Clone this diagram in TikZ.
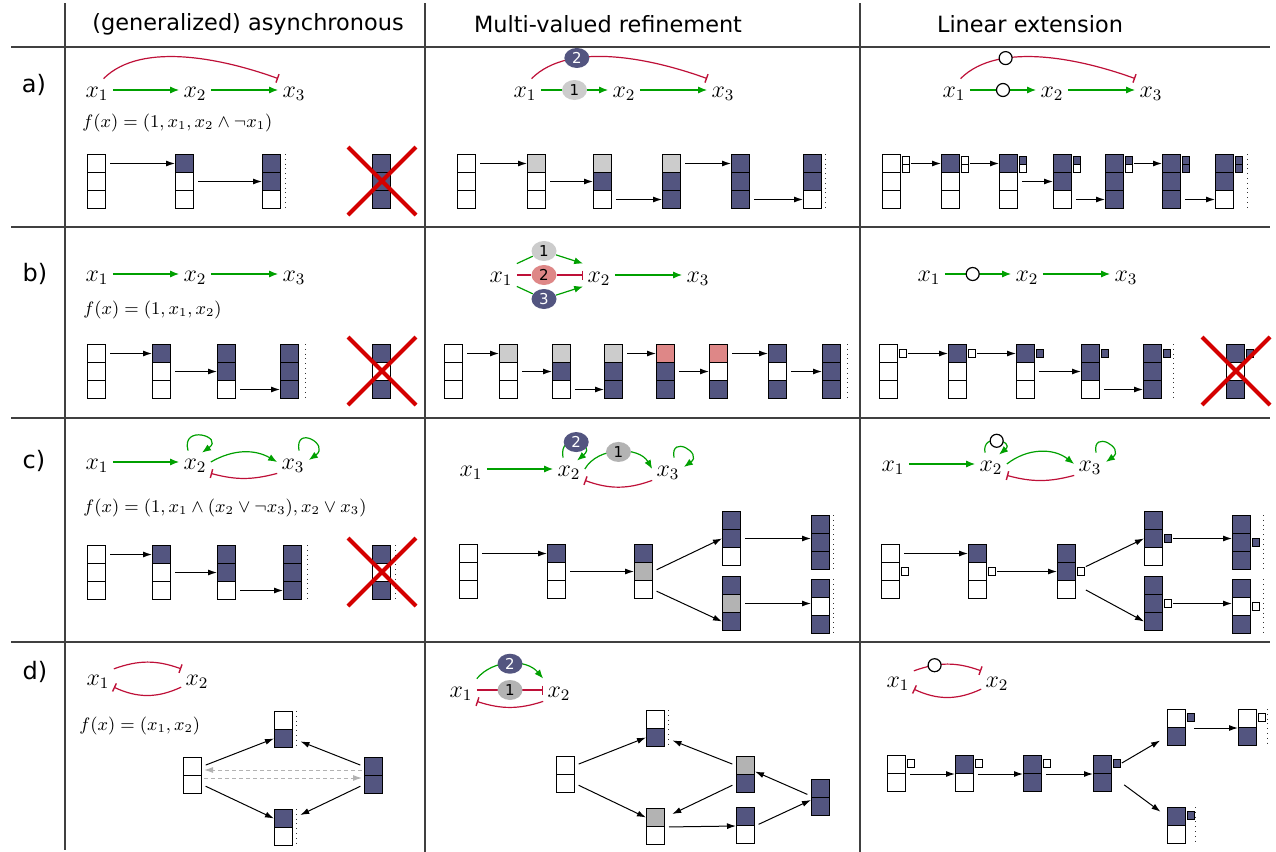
\documentclass[tikz,border=0pt]{standalone}
\usepackage{fontspec}
\newfontfamily\dejavu{DejaVu Sans}
\usetikzlibrary{arrows.meta,shapes.geometric}

\definecolor{bl}{RGB}{83,85,128}
\definecolor{lg}{RGB}{204,204,204}
\definecolor{mg}{RGB}{179,179,179}
\definecolor{sa}{RGB}{222,135,135}
\colorlet{wt}{white}
\definecolor{actgreen}{RGB}{0,160,0}
\definecolor{inhred}{RGB}{190,16,56}
\definecolor{crossred}{RGB}{212,0,0}

\tikzset{
  grid/.style={draw=black!75, line width=0.6pt},
  head/.style={font=\dejavu\fontsize{11.2}{13}\selectfont, inner sep=0pt},
  rowlab/.style={font=\dejavu\fontsize{12}{14}\selectfont, inner sep=0pt},
  var/.style={anchor=base, inner sep=2pt, text height=7pt, text depth=0pt, font=\fontsize{12}{14}\selectfont},
  formula/.style={anchor=base west, inner sep=0pt, font=\fontsize{8.6}{10}\selectfont},
  act/.style={draw=actgreen, line width=0.6pt, -{Latex[length=4.5pt,width=3.5pt]}},
  inh/.style={draw=inhred, line width=0.6pt, -{Bar[width=4.5pt,line width=0.7pt]}},
  elps/.style={ellipse, minimum width=12.5pt, minimum height=10pt, inner sep=0pt, font=\dejavu\fontsize{7.5}{9}\selectfont},
  ocirc/.style={circle, draw=black, fill=white, line width=0.6pt, minimum size=6.5pt, inner sep=0pt},
  cell/.style={draw=black, line width=0.5pt, anchor=north west, minimum width=9pt, minimum height=9pt, inner sep=0pt},
  sidecell/.style={cell, minimum width=3.5pt, minimum height=4pt},
  trans/.style={draw=black, line width=0.5pt, -{Latex[length=4.5pt,width=3pt]}, shorten <=2pt},
  fromside/.style={shorten <=0.5pt},
  ghost/.style={draw=black!30, line width=0.5pt, dash pattern=on 2pt off 1.5pt, -{Latex[length=4.5pt,width=3pt]}, shorten <=1pt, shorten >=1pt},
  fixpt/.style={draw=black!80, line width=0.4pt, dotted},
  cross/.style={draw=crossred, line width=2pt},
}

% state as a column of cells, top to bottom
\newcommand{\statebox}[4]{%
  \foreach \f [count=\i] in {#4}
    \node[cell, fill=\f] (#1-\i) at (#2, {#3+(\i-1)*18}) {};
}
\newcommand{\sidebox}[4]{%
  \foreach \f [count=\i] in {#4}
    \node[sidecell, fill=\f] (#1-\i) at (#2, {#3+(\i-1)*8}) {};
}
\newcommand{\crossout}[1]{%
  \draw[cross] ([shift={(-12pt,3.5pt)}]#1-1.north west) -- ([shift={(12.5pt,-3pt)}]#1-3.south east)
               ([shift={(-12pt,-3pt)}]#1-3.south west) -- ([shift={(12.5pt,3.5pt)}]#1-1.north east);
}

\begin{document}
\begin{tikzpicture}[x=0.5pt,y=-0.5pt]
\useasboundingbox (0,0) rectangle (1276,852);

% table
\draw[grid] (11,47) -- (1270,47);
\draw[grid] (11,227) -- (1270,227);
\draw[grid] (11,418) -- (1270,418);
\draw[grid] (11,642) -- (1270,642);
\draw[grid] (65,3) -- (65,850);
\draw[grid] (425,3) -- (425,852);
\draw[grid] (860,3) -- (860,852);

\node[head] (h1) at (248,24) {(generalized) asynchronous};
\node[head] (h2) at (608,24) {Multi-valued refinement};
\node[head] (h3) at (1030,24) {Linear extension};

\node[rowlab] (la) at (34,85) {a)};
\node[rowlab] (lb) at (35,274) {b)};
\node[rowlab] (lc) at (34,461) {c)};
\node[rowlab] (ld) at (35,672) {d)};

% a) asynchronous
\node[var] (a1x1) at (97,97) {$x_1$};
\node[var] (a1x2) at (195,97) {$x_2$};
\node[var] (a1x3) at (294,97) {$x_3$};
\draw[act] (a1x1) -- (a1x2);
\draw[act] (a1x2) -- (a1x3);
\draw[inh] (a1x1.60) to[out=45,in=160,looseness=0.8] (a1x3.north west);
\node[formula] (a1f) at (82,127) {$f(x)=(1,x_1,x_2\wedge\neg x_1)$};
\statebox{a1s1}{87}{154}{wt,wt,wt}
\statebox{a1s2}{175}{154}{bl,wt,wt}
\statebox{a1s3}{262}{154}{bl,bl,wt}
\statebox{a1sx}{372}{154}{bl,bl,bl}
\draw[trans] (a1s1-1.east) -- (a1s2-1.west);
\draw[trans] (a1s2-2.east) -- (a1s3-2.west);
\draw[fixpt] ([xshift=2pt]a1s3-1.north east) -- ([xshift=2pt]a1s3-3.south east);
\crossout{a1sx}

% a) multi-valued
\node[var] (a2x1) at (525,97) {$x_1$};
\node[var] (a2x2) at (624,97) {$x_2$};
\node[var] (a2x3) at (723,97) {$x_3$};
\draw[act] (a2x1) -- node[elps,fill=lg] (a2e1) {1} (a2x2);
\draw[act] (a2x2) -- (a2x3);
\draw[inh] (a2x1.60) to[out=45,in=160,looseness=0.8] node[pos=0.3,elps,fill=bl,text=white] (a2e2) {2} (a2x3.north west);
\statebox{a2s1}{457}{154}{wt,wt,wt}
\statebox{a2s2}{527}{154}{lg,wt,wt}
\statebox{a2s3}{593}{154}{lg,bl,wt}
\statebox{a2s4}{662}{154}{lg,bl,bl}
\statebox{a2s5}{731}{154}{bl,bl,bl}
\statebox{a2s6}{803}{154}{bl,bl,wt}
\draw[trans] (a2s1-1.east) -- (a2s2-1.west);
\draw[trans] (a2s2-2.east) -- (a2s3-2.west);
\draw[trans] (a2s3-3.east) -- (a2s4-3.west);
\draw[trans] (a2s4-1.east) -- (a2s5-1.west);
\draw[trans] (a2s5-3.east) -- (a2s6-3.west);
\draw[fixpt] ([xshift=1.5pt]a2s6-1.north east) -- ([xshift=1.5pt]a2s6-3.south east);

% a) linear extension
\node[var] (a3x1) at (954,97) {$x_1$};
\node[var] (a3x2) at (1052,97) {$x_2$};
\node[var] (a3x3) at (1151,97) {$x_3$};
\draw[act] (a3x1) -- node[ocirc] (a3c1) {} (a3x2);
\draw[act] (a3x2) -- (a3x3);
\draw[inh] (a3x1.60) to[out=45,in=160,looseness=0.8] node[pos=0.3,ocirc] (a3c2) {} (a3x3.north west);
\statebox{a3s1}{882}{154}{wt,wt,wt}
\sidebox{a3t1}{902}{156}{wt,wt}
\statebox{a3s2}{941}{154}{bl,wt,wt}
\sidebox{a3t2}{961}{156}{wt,wt}
\statebox{a3s3}{999}{154}{bl,wt,wt}
\sidebox{a3t3}{1019}{156}{bl,wt}
\statebox{a3s4}{1053}{154}{bl,bl,wt}
\sidebox{a3t4}{1073}{156}{bl,wt}
\statebox{a3s5}{1105}{154}{bl,bl,bl}
\sidebox{a3t5}{1125}{156}{bl,wt}
\statebox{a3s6}{1162}{154}{bl,bl,bl}
\sidebox{a3t6}{1182}{156}{bl,bl}
\statebox{a3s7}{1215}{154}{bl,bl,wt}
\sidebox{a3t7}{1235}{156}{bl,bl}
\draw[trans,fromside] (a3t1-1.east |- a3s2-1.west) -- (a3s2-1.west);
\draw[trans,fromside] (a3t2-1.east |- a3s3-1.west) -- (a3s3-1.west);
\draw[trans] (a3s3-2.east) -- (a3s4-2.west);
\draw[trans] (a3s4-3.east) -- (a3s5-3.west);
\draw[trans,fromside] (a3t5-1.east |- a3s6-1.west) -- (a3s6-1.west);
\draw[trans] (a3s6-3.east) -- (a3s7-3.west);
\draw[fixpt] ([xshift=6.5pt]a3s7-1.north east) -- ([xshift=6.5pt]a3s7-3.south east);

% b) asynchronous
\node[var] (b1x1) at (97,281) {$x_1$};
\node[var] (b1x2) at (195,281) {$x_2$};
\node[var] (b1x3) at (294,281) {$x_3$};
\draw[act] (b1x1) -- (b1x2);
\draw[act] (b1x2) -- (b1x3);
\node[formula] (b1f) at (83,314) {$f(x)=(1,x_1,x_2)$};
\statebox{b1s1}{87}{344}{wt,wt,wt}
\statebox{b1s2}{152}{344}{bl,wt,wt}
\statebox{b1s3}{217}{344}{bl,bl,wt}
\statebox{b1s4}{280}{344}{bl,bl,bl}
\statebox{b1sx}{372}{344}{bl,wt,bl}
\draw[trans] (b1s1-1.east) -- (b1s2-1.west);
\draw[trans] (b1s2-2.east) -- (b1s3-2.west);
\draw[trans] (b1s3-3.east) -- (b1s4-3.west);
\draw[fixpt] ([xshift=3pt]b1s4-1.north east) -- ([xshift=3pt]b1s4-3.south east);
\crossout{b1sx}

% b) multi-valued
\node[var] (b2x1) at (501,282) {$x_1$};
\node[var] (b2x2) at (599,282) {$x_2$};
\node[var] (b2x3) at (698,282) {$x_3$};
\node[elps,fill=lg] (b2e1) at (544,251) {1};
\node[elps,fill=sa] (b2e2) at (544,275) {2};
\node[elps,fill=bl,text=white] (b2e3) at (544,299) {3};
\draw[act] (b2x1.north east) -- (b2e1) -- (b2x2.north west);
\draw[inh] (b2x1) -- (b2e2) -- (b2x2);
\draw[act] (b2x1.south east) -- (b2e3) -- (b2x2.south west);
\draw[act] (b2x2) -- (b2x3);
\statebox{b2s1}{444}{344}{wt,wt,wt}
\statebox{b2s2}{499}{344}{lg,wt,wt}
\statebox{b2s3}{552}{344}{lg,bl,wt}
\statebox{b2s4}{604}{344}{lg,bl,bl}
\statebox{b2s5}{656}{344}{sa,bl,bl}
\statebox{b2s6}{709}{344}{sa,wt,bl}
\statebox{b2s7}{768}{344}{bl,wt,bl}
\statebox{b2s8}{822}{344}{bl,bl,bl}
\draw[trans] (b2s1-1.east) -- (b2s2-1.west);
\draw[trans] (b2s2-2.east) -- (b2s3-2.west);
\draw[trans] (b2s3-3.east) -- (b2s4-3.west);
\draw[trans] (b2s4-1.east) -- (b2s5-1.west);
\draw[trans] (b2s5-2.east) -- (b2s6-2.west);
\draw[trans] (b2s6-1.east) -- (b2s7-1.west);
\draw[trans] (b2s7-2.east) -- (b2s8-2.west);
\draw[fixpt] ([xshift=3pt]b2s8-1.north east) -- ([xshift=3pt]b2s8-3.south east);

% b) linear extension
\node[var] (b3x1) at (929,281) {$x_1$};
\node[var] (b3x2) at (1027,281) {$x_2$};
\node[var] (b3x3) at (1126,281) {$x_3$};
\draw[act] (b3x1) -- node[pos=0.42,ocirc] (b3c1) {} (b3x2);
\draw[act] (b3x2) -- (b3x3);
\statebox{b3s1}{879}{344}{wt,wt,wt}
\sidebox{b3t1}{899}{349}{wt}
\statebox{b3s2}{948}{344}{bl,wt,wt}
\sidebox{b3t2}{968}{349}{wt}
\statebox{b3s3}{1016}{344}{bl,wt,wt}
\sidebox{b3t3}{1036}{349}{bl}
\statebox{b3s4}{1081}{344}{bl,bl,wt}
\sidebox{b3t4}{1101}{349}{bl}
\statebox{b3s5}{1143}{344}{bl,bl,bl}
\sidebox{b3t5}{1163}{349}{bl}
\statebox{b3sx}{1226}{344}{bl,wt,bl}
\sidebox{b3tx}{1246}{349}{bl}
\draw[trans,fromside] (b3t1-1.east |- b3s2-1.west) -- (b3s2-1.west);
\draw[trans,fromside] (b3t2-1.east |- b3s3-1.west) -- (b3s3-1.west);
\draw[trans] (b3s3-2.east) -- (b3s4-2.west);
\draw[trans] (b3s4-3.east) -- (b3s5-3.west);
\draw[fixpt] ([xshift=5.5pt]b3s5-1.north east) -- ([xshift=5.5pt]b3s5-3.south east);
\crossout{b3sx}

% c) asynchronous
\node[var] (c1x1) at (97,469) {$x_1$};
\node[var] (c1x2) at (195,469) {$x_2$};
\node[var] (c1x3) at (293,469) {$x_3$};
\draw[act] (c1x1) -- (c1x2);
\draw[act] (c1x2.east) to[bend left=30] (c1x3.west);
\draw[inh] (c1x3.south west) to[bend left=15] (c1x2.south east);
\draw[act] ([xshift=-3.5pt]c1x2.north) to[out=105,in=35,looseness=5] ([xshift=3.5pt,yshift=-1pt]c1x2.north);
\draw[act] ([xshift=3pt]c1x3.north) to[out=100,in=35,looseness=5] ([yshift=1pt]c1x3.east);
\node[formula] (c1f) at (83,512) {$f(x)=(1,x_1\wedge(x_2\vee\neg x_3),x_2\vee x_3)$};
\statebox{c1s1}{87}{545}{wt,wt,wt}
\statebox{c1s2}{152}{545}{bl,wt,wt}
\statebox{c1s3}{217}{545}{bl,bl,wt}
\statebox{c1s4}{283}{545}{bl,bl,bl}
\statebox{c1sx}{372}{545}{bl,wt,bl}
\draw[trans] (c1s1-1.east) -- (c1s2-1.west);
\draw[trans] (c1s2-2.east) -- (c1s3-2.west);
\draw[trans] (c1s3-3.east) -- (c1s4-3.west);
\draw[fixpt] ([xshift=2.5pt]c1s4-1.north east) -- ([xshift=2.5pt]c1s4-3.south east);
\draw[fixpt] ([xshift=2pt]c1sx-1.north east) -- ([xshift=2pt]c1sx-3.south east);
\crossout{c1sx}

% c) multi-valued
\node[var] (c2x1) at (471,476) {$x_1$};
\node[var] (c2x2) at (569,476) {$x_2$};
\node[var] (c2x3) at (668,476) {$x_3$};
\draw[act] (c2x1) -- (c2x2);
\draw[act] ([xshift=-3pt]c2x2.north) to[out=100,in=40,looseness=5] node[elps,fill=bl,text=white] (c2e2) {2} ([xshift=4pt,yshift=-1.5pt]c2x2.north);
\draw[act] (c2x2.east) to[bend left=60] node[elps,fill=mg] (c2e1) {1} (c2x3.west);
\draw[inh] (c2x3.south west) to[bend left=20] (c2x2.south east);
\draw[act] ([xshift=3pt]c2x3.north) to[out=100,in=35,looseness=4.5] ([yshift=1pt]c2x3.east);
\statebox{c2s1}{459}{544}{wt,wt,wt}
\statebox{c2s2}{547}{544}{bl,wt,wt}
\statebox{c2s3}{634}{544}{bl,mg,wt}
\statebox{c2s4}{722}{511}{bl,bl,wt}
\statebox{c2s5}{722}{576}{bl,mg,bl}
\statebox{c2s6}{811}{515}{bl,bl,bl}
\statebox{c2s7}{811}{579}{bl,wt,bl}
\draw[trans] (c2s1-1.east) -- (c2s2-1.west);
\draw[trans] (c2s2-2.east) -- (c2s3-2.west);
\draw[trans] (c2s3-2.east) -- (c2s4-2.west);
\draw[trans] (c2s3-3.east) -- (c2s5-3.west);
\draw[trans] (c2s4-2.east) -- (c2s4-2.east -| c2s6-2.west);
\draw[trans] (c2s5-2.east) -- (c2s5-2.east -| c2s7-2.west);
\draw[fixpt] ([xshift=1.5pt]c2s6-1.north east) -- ([xshift=1.5pt]c2s6-3.south east);
\draw[fixpt] ([xshift=1.5pt]c2s7-1.north east) -- ([xshift=1.5pt]c2s7-3.south east);

% c) linear extension
\node[var] (c3x1) at (893,471) {$x_1$};
\node[var] (c3x2) at (991,471) {$x_2$};
\node[var] (c3x3) at (1090,471) {$x_3$};
\draw[act] (c3x1) -- (c3x2);
\draw[act] ([xshift=-3pt]c3x2.north) to[out=100,in=40,looseness=3.8] node[ocirc] (c3c1) {} ([xshift=4pt,yshift=-1pt]c3x2.north);
\draw[act] (c3x2.east) to[bend left=38] (c3x3.west);
\draw[inh] (c3x3.south west) to[bend left=15] (c3x2.south east);
\draw[act] ([xshift=3pt]c3x3.north) to[out=100,in=35,looseness=4.5] ([yshift=1pt]c3x3.east);
\statebox{c3s1}{881}{544}{wt,wt,wt}
\sidebox{c3t1}{901}{567}{wt}
\statebox{c3s2}{968}{544}{bl,wt,wt}
\sidebox{c3t2}{988}{567}{wt}
\statebox{c3s3}{1057}{544}{bl,bl,wt}
\sidebox{c3t3}{1077}{567}{wt}
\statebox{c3s4}{1144}{511}{bl,bl,wt}
\sidebox{c3t4}{1164}{534}{bl}
\statebox{c3s5}{1144}{576}{bl,bl,bl}
\sidebox{c3t5}{1164}{599}{wt}
\statebox{c3s6}{1232}{515}{bl,bl,bl}
\sidebox{c3t6}{1252}{538}{bl}
\statebox{c3s7}{1232}{579}{bl,wt,bl}
\sidebox{c3t7}{1252}{602}{wt}
\draw[trans] (c3s1-1.east) -- (c3s2-1.west);
\draw[trans,fromside] (c3t2-1.east) -- (c3s3-2.west);
\draw[trans,fromside] (c3t3-1.north east) -- (c3s4-2.west);
\draw[trans,fromside] (c3t3-1.east |- c3s3-3.east) -- (c3s5-3.west);
\draw[trans,fromside] (c3t4-1.east) -- (c3t4-1.east -| c3s6-2.west);
\draw[trans,fromside] (c3t5-1.east) -- (c3t5-1.east -| c3s7-2.west);
\draw[fixpt] ([xshift=6pt]c3s6-1.north east) -- ([xshift=6pt]c3s6-3.south east);
\draw[fixpt] ([xshift=6pt]c3s7-1.north east) -- ([xshift=6pt]c3s7-3.south east);

% d) asynchronous
\node[var] (d1x1) at (98,685) {$x_1$};
\node[var] (d1x2) at (197,685) {$x_2$};
\draw[inh] (d1x1.30) to[bend left=20] (d1x2.150);
\draw[inh] (d1x2.210) to[bend left=25] (d1x1.330);
\node[formula] (d1f) at (79,730) {$f(x)=(x_1,x_2)$};
\statebox{d1s1}{183}{757}{wt,wt}
\statebox{d1s2}{274}{711}{wt,bl}
\statebox{d1s3}{274}{809}{bl,wt}
\statebox{d1s4}{364}{757}{bl,bl}
\draw[trans] (d1s1-1.east) -- (d1s2-2.west);
\draw[trans] (d1s1-2.east) -- (d1s3-1.west);
\draw[trans,shorten >=4pt] (d1s4-1.west) -- (d1s2-2.east);
\draw[trans,shorten >=4pt] (d1s4-2.west) -- (d1s3-1.east);
\draw[ghost] ([yshift=3pt]d1s4-1.south west) -- ([yshift=3pt]d1s1-1.south east);
\draw[ghost] ([yshift=-1pt]d1s1-1.south east) -- ([yshift=-1pt]d1s4-1.south west);
\draw[fixpt] ([xshift=1.5pt]d1s2-1.north east) -- ([xshift=1.5pt]d1s2-2.south east);
\draw[fixpt] ([xshift=1.5pt]d1s3-1.north east) -- ([xshift=1.5pt]d1s3-2.south east);

% d) multi-valued
\node[var] (d2x1) at (461,697) {$x_1$};
\node[var] (d2x2) at (559,697) {$x_2$};
\draw[act] (d2x1.north east) to[bend left=50] node[elps,fill=bl,text=white] (d2e2) {2} (d2x2.north west);
\draw[inh] (d2x1) -- node[elps,fill=mg] (d2e1) {1} (d2x2);
\draw[inh] (d2x2.south west) to[bend left=18] (d2x1.south east);
\statebox{d2s1}{556}{756}{wt,wt}
\statebox{d2s2}{646}{710}{wt,bl}
\statebox{d2s3}{736}{756}{mg,bl}
\statebox{d2s4}{811}{779}{bl,bl}
\statebox{d2s5}{646}{808}{mg,wt}
\statebox{d2s6}{736}{807}{bl,wt}
\draw[trans] (d2s1-1.east) -- (d2s2-2.west);
\draw[trans] (d2s1-2.east) -- (d2s5-1.west);
\draw[trans,shorten >=4pt] (d2s3-1.west) -- (d2s2-2.east);
\draw[trans,shorten >=4pt] (d2s3-2.west) -- (d2s5-1.east);
\draw[trans] (d2s5-1.south east) -- (d2s6-1.south west);
\draw[trans] (d2s6-1.south east) -- ([yshift=-1pt]d2s4-1.south west);
\draw[trans] ([yshift=1pt]d2s4-1.south west) -- ([yshift=-3pt]d2s3-1.east);
\draw[fixpt] ([xshift=1.5pt]d2s2-1.north east) -- ([xshift=1.5pt]d2s2-2.south east);

% d) linear extension
\node[var] (d3x1) at (898,687) {$x_1$};
\node[var] (d3x2) at (997,687) {$x_2$};
\draw[inh] (d3x1.30) to[bend left=20] node[pos=0.3,ocirc] (d3c1) {} (d3x2.150);
\draw[inh] (d3x2.210) to[bend left=25] (d3x1.330);
\statebox{d3s1}{887}{755}{wt,wt}
\sidebox{d3t1}{907}{759}{wt}
\statebox{d3s2}{955}{755}{bl,wt}
\sidebox{d3t2}{975}{759}{wt}
\statebox{d3s3}{1023}{755}{bl,bl}
\sidebox{d3t3}{1043}{759}{wt}
\statebox{d3s4}{1093}{755}{bl,bl}
\sidebox{d3t4}{1113}{759}{bl}
\statebox{d3s5}{1167}{709}{wt,bl}
\sidebox{d3t5}{1187}{713}{bl}
\statebox{d3s6}{1238}{709}{wt,bl}
\sidebox{d3t6}{1258}{713}{wt}
\statebox{d3s7}{1167}{807}{bl,wt}
\sidebox{d3t7}{1187}{811}{bl}
\draw[trans] (d3s1-1.south east) -- (d3s2-1.south west);
\draw[trans] (d3s2-1.south east) -- (d3s3-1.south west);
\draw[trans] (d3s3-1.south east) -- (d3s4-1.south west);
\draw[trans,fromside,shorten >=4pt] (d3t4-1.east) -- (d3s5-2.west);
\draw[trans,shorten >=4pt] (d3t4-1.east |- d3s4-2.east) -- (d3s7-1.west);
\draw[trans,shorten <=4pt] (d3s5-1.south east) -- (d3s6-1.south west);
\draw[fixpt] ([xshift=5pt]d3s6-1.north east) -- ([xshift=5pt]d3s6-2.south east);
\draw[fixpt] ([xshift=4.5pt]d3s7-1.north east) -- ([xshift=4.5pt]d3s7-2.south east);
\end{tikzpicture}
\end{document}
